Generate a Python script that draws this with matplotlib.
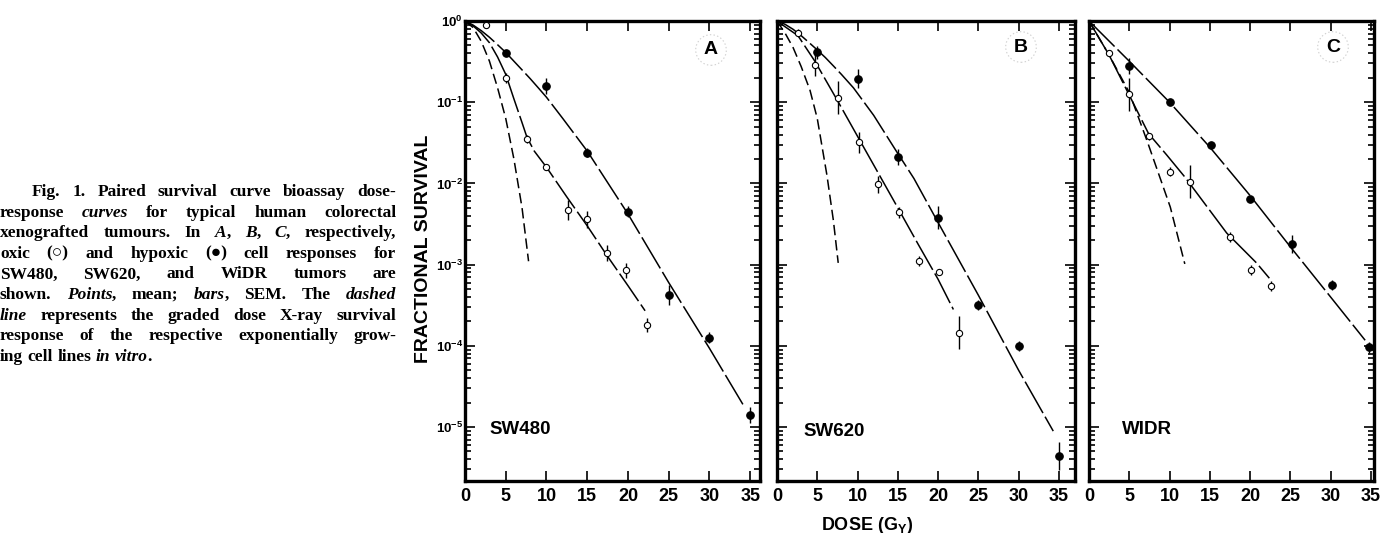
import numpy as np
import matplotlib
matplotlib.use("Agg")
import matplotlib.pyplot as plt
from matplotlib.ticker import FixedLocator, LogLocator, NullFormatter, FixedFormatter

plt.rcParams["font.family"] = ["Liberation Sans", "DejaVu Sans"]
plt.rcParams["mathtext.fontset"] = "custom"
plt.rcParams["mathtext.rm"] = "Liberation Sans:bold"
plt.rcParams["mathtext.bf"] = "Liberation Sans:bold"
plt.rcParams["mathtext.it"] = "Liberation Sans:bold"
plt.rcParams["lines.scale_dashes"] = False

# ---------------- data ----------------
# Panel A : SW480
a_hyp_dose = [5, 10, 15, 20, 25, 30, 35]
a_hyp_surv = [0.40, 0.16, 0.024, 0.0045, 4.2e-4, 1.26e-4, 1.4e-5]
a_hyp_err = [0.03, 0.10, 0.05, 0.07, 0.12, 0.07, 0.10]
a_oxi_dose = [2.6, 5, 7.6, 10, 12.6, 15, 17.4, 19.8, 22.3]
a_oxi_surv = [0.90, 0.20, 0.035, 0.016, 0.0047, 0.0036, 0.0014, 8.5e-4, 1.8e-4]
a_oxi_err = [0.0, 0.06, 0.05, 0.03, 0.12, 0.10, 0.10, 0.09, 0.09]
a_hyp_curve_dose = [0, 1, 2, 3, 4, 5, 6, 7, 8, 9, 10, 12, 15, 20, 25, 30, 34.1]
a_hyp_curve_surv = [1, 0.89, 0.76, 0.63, 0.51, 0.41, 0.32, 0.25, 0.195, 0.15, 0.115,
                    0.063, 0.025, 0.0042, 6.0e-4, 9.3e-5, 1.9e-5]
a_oxi_curve_dose = [0, 1, 2, 3, 4, 5, 6, 7, 7.6, 8.5, 10, 12.5, 15, 17.5, 20, 22.1]
a_oxi_curve_surv = [1, 0.87, 0.71, 0.54, 0.36, 0.22, 0.11, 0.056, 0.037, 0.025, 0.0158,
                    0.0068, 0.0030, 0.00126, 0.00055, 0.00027]
a_vit_curve_dose = [0, 1, 2, 3, 4, 5, 6, 7, 7.8]
a_vit_curve_surv = [1, 0.83, 0.56, 0.32, 0.15, 0.063, 0.02, 0.005, 0.0011]

# Panel B : SW620
b_hyp_dose = [5, 10, 15, 20, 25, 30, 35]
b_hyp_surv = [0.41, 0.195, 0.021, 0.0038, 3.2e-4, 1.0e-4, 4.4e-6]
b_hyp_err = [0.08, 0.12, 0.10, 0.14, 0.06, 0.06, 0.17]
b_oxi_dose = [2.6, 4.7, 7.55, 10.2, 12.6, 15.2, 17.6, 20.1, 22.6]
b_oxi_surv = [0.72, 0.29, 0.114, 0.032, 0.0097, 0.0044, 0.0011, 8.1e-4, 1.45e-4]
b_oxi_err = [0.04, 0.14, 0.20, 0.13, 0.10, 0.07, 0.06, 0.04, 0.20]
b_hyp_curve_dose = [0, 1, 2, 3, 4, 5, 6, 7, 8, 9.5, 12, 14.7, 17, 20, 25, 30, 34.3]
b_hyp_curve_surv = [1, 0.91, 0.79, 0.66, 0.54, 0.44, 0.355, 0.28, 0.22, 0.15, 0.069,
                    0.026, 0.0115, 0.0033, 4.2e-4, 5.0e-5, 8.9e-6]
b_oxi_curve_dose = [0, 1, 2.6, 4.7, 7.5, 10, 12.5, 15, 17.5, 20, 21.9]
b_oxi_curve_surv = [1, 0.85, 0.66, 0.32, 0.105, 0.038, 0.0138, 0.005, 0.0018, 0.00066, 0.00028]
b_vit_curve_dose = [0, 1, 2, 3, 4.1, 5, 6.2, 7, 7.6]
b_vit_curve_surv = [1, 0.71, 0.47, 0.275, 0.14, 0.063, 0.0126, 0.0035, 0.00105]

# Panel C : WiDR
c_hyp_dose = [5, 10, 15.1, 20, 25.2, 30.2, 34.8]
c_hyp_surv = [0.28, 0.10, 0.030, 0.0064, 0.0018, 5.6e-4, 9.6e-5]
c_hyp_err = [0.10, 0.02, 0.03, 0.03, 0.11, 0.06, 0.07]
c_oxi_dose = [2.5, 5, 7.5, 10.1, 12.5, 17.5, 20.1, 22.6]
c_oxi_surv = [0.40, 0.125, 0.038, 0.014, 0.0105, 0.0022, 8.6e-4, 5.4e-4]
c_oxi_err = [0.03, 0.20, 0.04, 0.06, 0.20, 0.06, 0.06, 0.06]
c_hyp_curve_dose = [0, 5, 10, 15, 20, 25, 30, 34.3]
c_hyp_curve_surv = [1, 0.32, 0.10, 0.028, 0.0071, 0.00166, 0.0004, 0.000117]
c_oxi_curve_dose = [0, 2.5, 4.7, 7.4, 9.65, 11.9, 17.1, 20.8, 22.4]
c_oxi_curve_surv = [1, 0.38, 0.14, 0.041, 0.0224, 0.012, 0.00245, 0.00105, 0.00068]
c_vit_curve_dose = [0, 2.5, 5, 7.3, 10.1, 11.9]
c_vit_curve_surv = [1, 0.38, 0.132, 0.0316, 0.0051, 0.00102]

panel_letters = ["A", "B", "C"]
cell_lines = ["SW480", "SW620", "WIDR"]
x_ticks = [0, 5, 10, 15, 20, 25, 30, 35]
y_ticks = [1, 1e-1, 1e-2, 1e-3, 1e-4, 1e-5]
y_tick_labels = [r"$\mathbf{10^{0}}$", r"$\mathbf{10^{-1}}$", r"$\mathbf{10^{-2}}$",
                 r"$\mathbf{10^{-3}}$", r"$\mathbf{10^{-4}}$", r"$\mathbf{10^{-5}}$"]

panels = [
    dict(hyp=(a_hyp_dose, a_hyp_surv, a_hyp_err), oxi=(a_oxi_dose, a_oxi_surv, a_oxi_err),
         hc=(a_hyp_curve_dose, a_hyp_curve_surv), oc=(a_oxi_curve_dose, a_oxi_curve_surv),
         vc=(a_vit_curve_dose, a_vit_curve_surv)),
    dict(hyp=(b_hyp_dose, b_hyp_surv, b_hyp_err), oxi=(b_oxi_dose, b_oxi_surv, b_oxi_err),
         hc=(b_hyp_curve_dose, b_hyp_curve_surv), oc=(b_oxi_curve_dose, b_oxi_curve_surv),
         vc=(b_vit_curve_dose, b_vit_curve_surv)),
    dict(hyp=(c_hyp_dose, c_hyp_surv, c_hyp_err), oxi=(c_oxi_dose, c_oxi_surv, c_oxi_err),
         hc=(c_hyp_curve_dose, c_hyp_curve_surv), oc=(c_oxi_curve_dose, c_oxi_curve_surv),
         vc=(c_vit_curve_dose, c_vit_curve_surv)),
]

# ---------------- layout ----------------
W, H = 1383, 533
fig = plt.figure(figsize=(W / 100, H / 100), dpi=100)

def fx(px):
    return px / W

def fy(py):
    return 1 - py / H

TOP, BOT = 21, 481
panel_px = [(465, 760, 36.2), (777, 1075, 37.0), (1089, 1374, 35.4)]
letter_pos = [(711, 50), (1021, 47), (1333, 47)]
line_lbl_pos = [(489, 430), (803, 431), (1122, 430)]

for i, (p, (l, r, xmax)) in enumerate(zip(panels, panel_px)):
    ax = fig.add_axes([fx(l), fy(BOT), (r - l) / W, (BOT - TOP) / H])
    ax.set_yscale("log")
    ax.set_xlim(0, xmax)
    ax.set_ylim(10 ** -5.665, 1.0)

    # fitted curves
    ax.plot(*p["vc"], color="black", lw=1.1, dashes=(7.5, 3.5), zorder=2)
    ax.plot(*p["oc"], color="black", lw=1.1, dashes=(24, 3), zorder=2)
    ax.plot(*p["hc"], color="black", lw=1.1, dashes=(26, 3), zorder=2)

    # points and bars
    for key, face, ms in (("hyp", "black", 5.4), ("oxi", "white", 4.5)):
        d, s, e = p[key]
        s = np.array(s)
        e = np.array(e)
        lo = s - s * 10 ** (-e)
        hi = s * 10 ** e - s
        ax.errorbar(d, s, yerr=[lo, hi], fmt="none", ecolor="black", elinewidth=1.0,
                    capsize=0, zorder=3)
        ax.plot(d, s, "o", ms=ms, mfc=face, mec="black", mew=0.8, zorder=4,
                linestyle="none", clip_on=False)

    for sp in ax.spines.values():
        sp.set_linewidth(2.4)
    ax.xaxis.set_major_locator(FixedLocator(x_ticks))
    ax.set_xticklabels([str(t) for t in x_ticks], fontsize=13, fontweight="bold")
    ax.yaxis.set_major_locator(FixedLocator(y_ticks))
    ax.yaxis.set_minor_locator(LogLocator(base=10, subs=np.arange(2, 10), numticks=20))
    ax.yaxis.set_minor_formatter(NullFormatter())
    if i == 0:
        ax.yaxis.set_major_formatter(FixedFormatter(y_tick_labels))
        ax.tick_params(axis="y", labelsize=9.5, pad=1.5)
    else:
        ax.yaxis.set_major_formatter(NullFormatter())
    ax.tick_params(which="both", direction="in", top=True, right=True, width=1.2)
    ax.tick_params(which="major", length=7)
    ax.tick_params(which="minor", length=4)
    ax.tick_params(axis="x", pad=5)

    lx, ly = letter_pos[i]
    fig.text(fx(lx), fy(ly), panel_letters[i], fontsize=14, fontweight="bold",
             ha="center", va="center",
             bbox=dict(boxstyle="circle,pad=0.35", fc="none", ec="#d0d0d0", lw=0.8, ls=":"))
    cx, cy = line_lbl_pos[i]
    fig.text(fx(cx), fy(cy), cell_lines[i], fontsize=13.5, fontweight="bold",
             ha="left", va="center")

fig.text(fx(423), fy(249), "FRACTIONAL SURVIVAL", rotation=90, fontsize=14,
         fontweight="bold", ha="center", va="center")
fig.text(fx(867), fy(525), r"DOSE (G$_{\mathbf{Y}}$)", fontsize=13, fontweight="bold",
         ha="center", va="center")

# ---------------- caption (justified, bold serif) ----------------
CAP_FS = 12.5
CAP_FAM = ["Liberation Serif", "DejaVu Serif"]
n, it = "normal", "italic"
caption_lines = [
    [[("Fig.", n)], [("1.", n)], [("Paired", n)], [("survival", n)], [("curve", n)],
     [("bioassay", n)], [("dose-", n)]],
    [[("response", n)], [("curves", it)], [("for", n)], [("typical", n)], [("human", n)],
     [("colorectal", n)]],
    [[("xenografted", n)], [("tumours.", n)], [("In", n)], [("A", it), (",", n)],
     [("B", it), (",", n)], [("C", it), (",", n)], [("respectively,", n)]],
    [[("oxic", n)], [("(\u25CB)", n)], [("and", n)], [("hypoxic", n)], [("(\u25CF)", n)],
     [("cell", n)], [("responses", n)], [("for", n)]],
    [[("SW480,", n)], [("SW620,", n)], [("and", n)], [("WiDR", n)], [("tumors", n)],
     [("are", n)]],
    [[("shown.", n)], [("Points", it), (",", n)], [("mean;", n)], [("bars", it), (",", n)],
     [("SEM.", n)], [("The", n)], [("dashed", it)]],
    [[("line", it)], [("represents", n)], [("the", n)], [("graded", n)], [("dose", n)],
     [("X-ray", n)], [("survival", n)]],
    [[("response", n)], [("of", n)], [("the", n)], [("respective", n)],
     [("exponentially", n)], [("grow-", n)]],
    [[("ing", n)], [("cell", n)], [("lines", n)], [("in", it)], [("vitro", it), (".", n)]],
]
cap_left = [32, 0, 0, 0, 0, 0, 0, 0, 0]
cap_right = 396
cap_base0, cap_step = 196, 20.6

renderer = fig.canvas.get_renderer()

def piece_width(s, style):
    t = fig.text(0, 0, s, fontsize=CAP_FS, fontweight="bold", fontstyle=style,
                 family=CAP_FAM)
    w = t.get_window_extent(renderer).width
    t.remove()
    return w

space_w = piece_width("a a", n) - piece_width("aa", n)
for li, words in enumerate(caption_lines):
    widths = [[piece_width(s, st) for s, st in w] for w in words]
    total = sum(sum(w) for w in widths)
    x0 = cap_left[li]
    if li < len(caption_lines) - 1:
        gap = (cap_right - x0 - total) / (len(words) - 1)
        gap = max(gap, 0.5 * space_w)
    else:
        gap = space_w
    x = x0
    yb = cap_base0 + li * cap_step
    for w, ws in zip(words, widths):
        for (s, st), pw in zip(w, ws):
            fig.text(fx(x), fy(yb), s, fontsize=CAP_FS, fontweight="bold", fontstyle=st,
                     family=CAP_FAM, ha="left", va="baseline")
            x += pw
        x += gap

fig.savefig("out.png", dpi=100)
